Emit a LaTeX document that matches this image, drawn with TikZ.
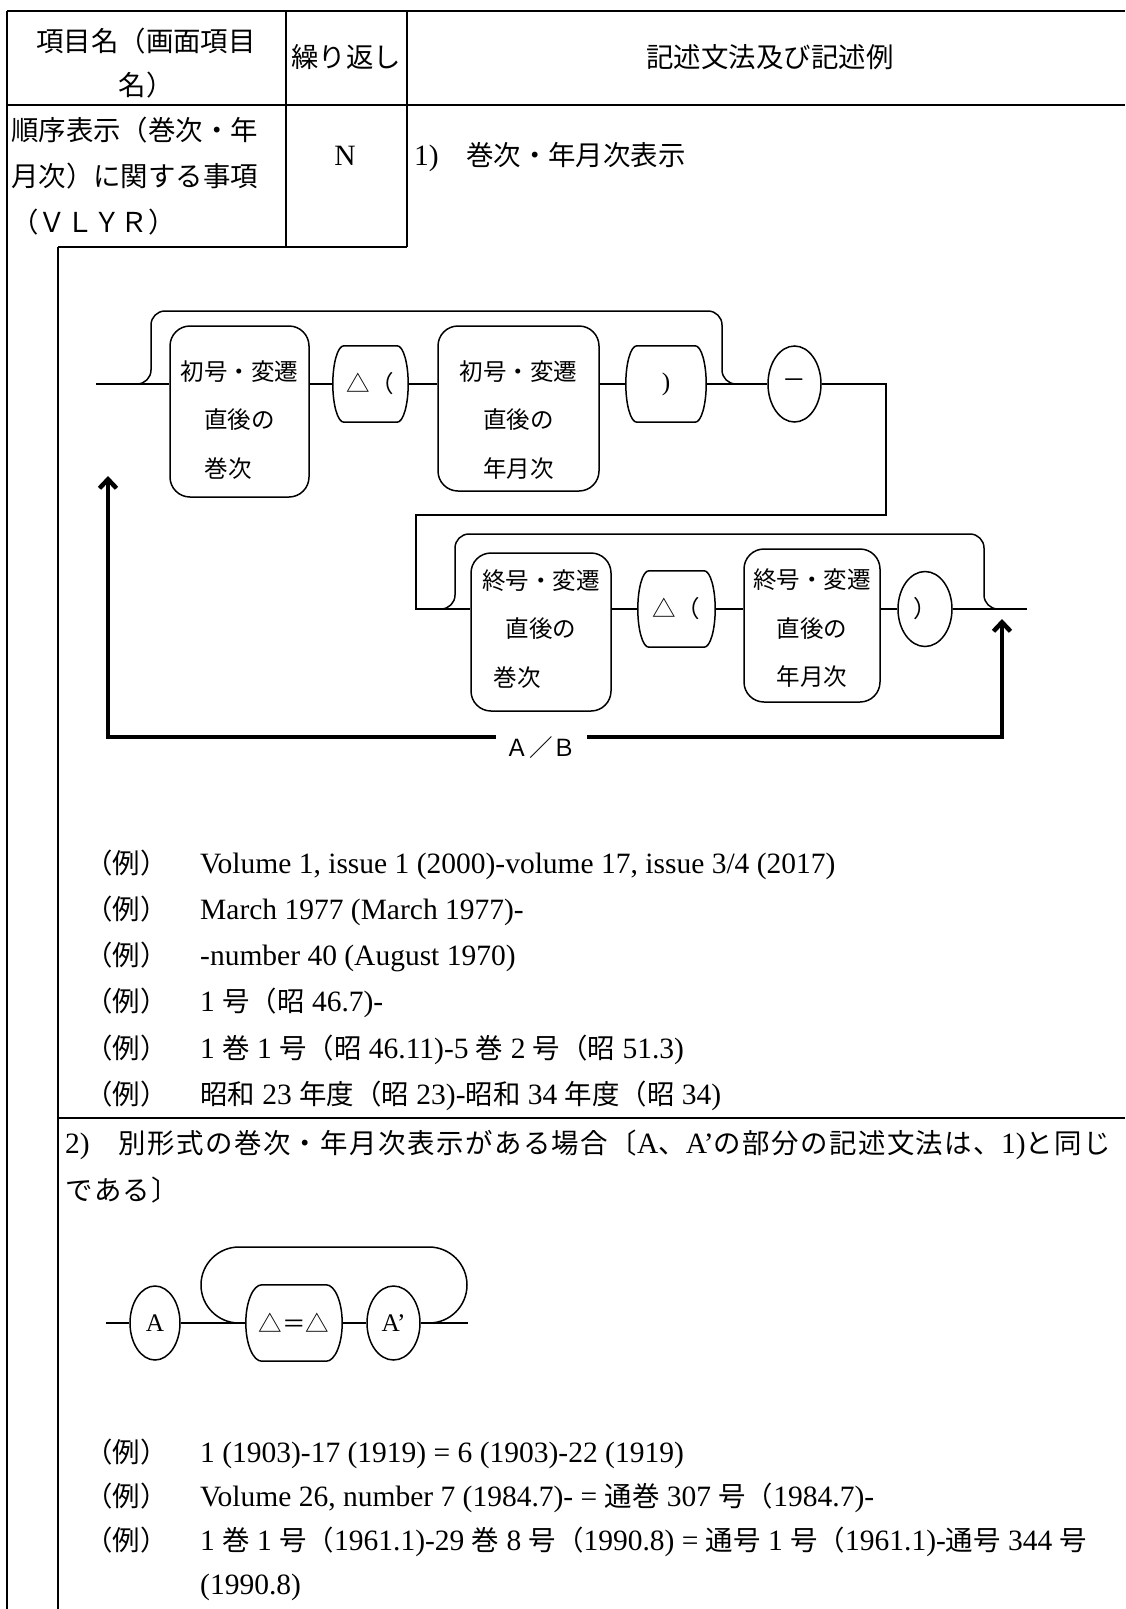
\documentclass[tikz,border=0pt]{standalone}
\usepackage{fontspec}
\setmainfont{Liberation Serif}
\newfontfamily\jpfont[Scale=0.93]{Noto Sans CJK JP}
\usetikzlibrary{shapes.geometric,arrows.meta,calc}

\XeTeXinterchartokenstate=1
\newXeTeXintercharclass\jpclass
\newcount\jpcode
\newcommand\jprange[2]{\jpcode=#1 \loop\XeTeXcharclass\jpcode=\jpclass\advance\jpcode by 1 \ifnum\jpcode<#2 \repeat}
\jprange{"3000}{"3100}
\jprange{"4E00}{"A000}
\jprange{"FF00}{"FF60}
\XeTeXcharclass"25B3=\jpclass
\newcommand\jpgap{}
\XeTeXinterchartoks 0 \jpclass={\jpfont}
\XeTeXinterchartoks 4095 \jpclass={\jpfont}
\XeTeXinterchartoks \jpclass 0={\rmfamily}
\XeTeXinterchartoks \jpclass 4095={\rmfamily}
\XeTeXinterchartoks \jpclass \jpclass={\jpgap}

\newcommand\bodyfont{\fontsize{29.5}{46}\selectfont}
\newcommand\figfont{\fontsize{25.3}{48.5}\selectfont}
\newcommand\pilloutline[2]{%
  \draw[rail] ([xshift=#2pt]#1.north west) -- ([xshift=-#2pt]#1.north east)
    .. controls ([xshift=-.45*#2pt]#1.north east) and ($(#1.east)!.55!(#1.north east)$) .. (#1.east)
    .. controls ($(#1.east)!.55!(#1.south east)$) and ([xshift=-.45*#2pt]#1.south east) .. ([xshift=-#2pt]#1.south east)
    -- ([xshift=#2pt]#1.south west)
    .. controls ([xshift=.45*#2pt]#1.south west) and ($(#1.west)!.55!(#1.south west)$) .. (#1.west)
    .. controls ($(#1.west)!.55!(#1.north west)$) and ([xshift=.45*#2pt]#1.north west) .. cycle;}

\begin{document}
\begin{tikzpicture}[x=1pt,y=-1pt,
  txt/.style={inner sep=0pt,font=\bodyfont,align=left},
  rule/.style={line width=1.8pt},
  rail/.style={line width=1.5pt},
  unit/.style={draw,line width=1.5pt,rounded corners=20pt,inner sep=0pt,align=center,font=\figfont},
  pill/.style={inner sep=0pt,minimum height=76pt,font=\figfont},
  oval/.style={draw,ellipse,line width=1.5pt,inner sep=0pt,minimum width=53pt,minimum height=76pt,font=\figfont},
  back/.style={line width=4.5pt,{Straight Barb[length=9pt,width=17pt]}-{Straight Barb[length=9pt,width=17pt]}}]

\useasboundingbox (0,0) rectangle (1125,1609);

\draw[rule] (7,11)--(1125,11);
\draw[rule] (7,105)--(1125,105);
\draw[rule] (7,11)--(7,1609);
\draw[rule] (286,11)--(286,247);
\draw[rule] (407,11)--(407,247);
\draw[rule] (58,247)--(407,247);
\draw[rule] (58,247)--(58,1609);
\draw[rule] (58,1118)--(1125,1118);

\node[txt,align=center,font=\fontsize{29.5}{44}\selectfont] (hitem) at (146,63) {項目名（画面項目\\名）};
\node[txt] (hrep) at (346,57) {繰り返し};
\node[txt] (hdesc) at (770,57) {記述文法及び記述例};
\node[txt,anchor=west] (item) at (11,176) {順序表示（巻次・年\\月次）に関する事項\\（ＶＬＹＲ）};
\node[txt,anchor=base] (rep) at (345,165) {N};
\node[txt,anchor=base west] (sec1) at (414,165) {1)　巻次・年月次表示};

\node[unit,minimum width=139pt,minimum height=171pt,text height=133pt] (u1) at (239.5,411.5) {初号・変遷\\直後の\\巻次\hspace*{23pt}};
\node[pill,minimum width=75pt] (dp1) at (370.5,384) {△（};
\node[unit,minimum width=161pt,minimum height=165pt,text height=139pt] (u2) at (518.5,408.5) {初号・変遷\\直後の\\年月次};
\node[pill,minimum width=80pt] (rp1) at (666,384) {)};
\node[oval] (dash) at (794.5,384) {－};
\node[unit,minimum width=140pt,minimum height=158pt,text height=110.5pt] (u3) at (541,632) {終号・変遷\\直後の\\巻次\hspace*{47pt}};
\node[pill,minimum width=77pt] (dp2) at (676.5,609) {△（};
\node[unit,minimum width=136pt,minimum height=153pt,text height=122.5pt] (u4) at (812,625.5) {終号・変遷\\直後の\\年月次};
\node[oval,minimum width=54pt,minimum height=75pt] (rp2) at (925,609) {）};

\foreach \n in {dp1,rp1,dp2}{\pilloutline{\n}{11}}

\coordinate (in1) at (96,384);
\coordinate (t1) at (886,515);
\coordinate (t2) at (416,609);
\coordinate (out1) at (1027,609);
\coordinate (lp1a) at (135,384);
\coordinate (lp1b) at (739,384);
\coordinate (lp2a) at (437,609);
\coordinate (lp2b) at (999,609);

\draw[rail] (in1) -- (u1.west |- in1);
\draw[rail] (u1.east |- dp1) -- (dp1);
\draw[rail] (dp1) -- (u2.west |- dp1);
\draw[rail] (u2.east |- rp1) -- (rp1);
\draw[rail] (rp1) -- (dash);
\draw[rail] (dash.east) -| (t1) -| (t2) -- (u3.west |- t2);
\draw[rail] (u3.east |- dp2) -- (dp2);
\draw[rail] (dp2) -- (u4.west |- dp2);
\draw[rail] (u4.east |- rp2) -- (rp2);
\draw[rail] (rp2) -- (out1);
\draw[rail,rounded corners=14pt] (lp1a) -| (151,311) -| (722,384) -- (lp1b);
\draw[rail,rounded corners=14pt] (lp2a) -| (455,534) -| (984,609) -- (lp2b);

\coordinate (up1) at (108,476);
\coordinate (up2) at (1002,619);
\draw[back] (up1) -- (108,737) -| (up2);
\node[fill=white,inner sep=0pt,minimum width=91pt,minimum height=32pt,font=\figfont] (ab) at (541,748) {Ａ／Ｂ};

\foreach \t [count=\k] in {{Volume 1, issue 1 (2000)-volume 17, issue 3/4 (2017)},{March 1977 (March 1977)-},{-number 40 (August 1970)},{1 号（昭 46.7)-},{1 巻 1 号（昭 46.11)-5 巻 2 号（昭 51.3)},{昭和 23 年度（昭 23)-昭和 34 年度（昭 34)}}{
\node[txt,anchor=base west] (rei\k) at (85,826.7+46.3*\k) {（例）};
\node[txt,anchor=base west] (ex\k) at (200,826.7+46.3*\k) {\t};
}

\node[txt,anchor=west,font={\fontsize{29.5}{47}\selectfont\def\jpgap{\hskip1.45pt}}] (sec2) at (65,1166.5) {2)　別形式の巻次・年月次表示がある場合〔A、A'の部分の記述文法は、1)と同じ\\である〕};

\node[oval,minimum width=50pt,minimum height=74pt] (a1) at (155,1323) {A};
\node[pill,minimum width=96pt] (eq) at (294,1323) {△＝△};
\node[oval,minimum height=74pt] (a2) at (393.5,1323) {A’};
\pilloutline{eq}{16}

\coordinate (in2) at (106,1323);
\coordinate (out2) at (468,1323);
\coordinate (lp3a) at (239,1323);
\coordinate (lp3b) at (429,1323);
\draw[rail] (in2) -- (a1);
\draw[rail] (a1) -- (eq);
\draw[rail] (eq) -- (a2);
\draw[rail] (a2) -- (out2);
\draw[rail,rounded corners=38pt] (lp3a) -- (201,1323) |- (467,1247) |- (lp3b);

\foreach \t [count=\k] in {{1 (1903)-17 (1919) = 6 (1903)-22 (1919)},{Volume 26, number 7 (1984.7)- = 通巻 307 号（1984.7)-}}{
\node[txt,anchor=base west] (reib\k) at (85,1418+44*\k) {（例）};
\node[txt,anchor=base west] (exb\k) at (200,1418+44*\k) {\t};
}
\node[txt,anchor=base west] (reib3) at (85,1550) {（例）};
\node[txt,anchor=base west,font=\fontsize{29.5}{44.5}\selectfont] (exb3) at (200,1594.5) {1 巻 1 号（1961.1)-29 巻 8 号（1990.8) = 通号 1 号（1961.1)-通号 344 号\\(1990.8)};

\end{tikzpicture}
\end{document}
